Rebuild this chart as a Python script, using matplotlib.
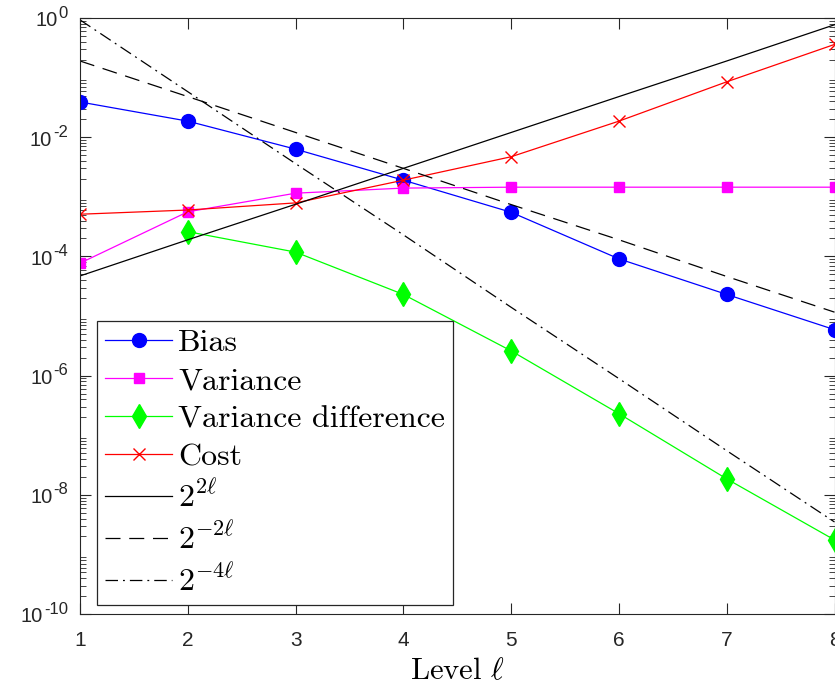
import numpy as np
import matplotlib
matplotlib.use("Agg")
import matplotlib.pyplot as plt
from matplotlib.ticker import LogLocator, FixedLocator, NullFormatter
from matplotlib.font_manager import FontProperties
from matplotlib.transforms import blended_transform_factory

plt.rcParams['mathtext.fontset'] = 'cm'

# === Data ===
levels = [1, 2, 3, 4, 5, 6, 7, 8]
bias = [3.9e-2, 1.86e-2, 6.3e-3, 1.9e-3, 5.5e-4, 9.1e-5, 2.3e-5, 5.9e-6]
variance = [7.7e-5, 5.6e-4, 1.15e-3, 1.4e-3, 1.45e-3, 1.45e-3, 1.45e-3, 1.45e-3]
var_diff_levels = [2, 3, 4, 5, 6, 7, 8]
var_diff = [2.6e-4, 1.18e-4, 2.3e-5, 2.6e-6, 2.3e-7, 1.85e-8, 1.75e-9]
cost = [5.1e-4, 6.0e-4, 7.9e-4, 1.9e-3, 4.7e-3, 1.86e-2, 8.5e-2, 3.6e-1]
ref_2l = [4.7e-5, 1.9e-4, 7.5e-4, 3.0e-3, 1.2e-2, 4.8e-2, 1.9e-1, 7.7e-1]
ref_m2l = [1.9e-1, 4.8e-2, 1.2e-2, 3.0e-3, 7.4e-4, 1.9e-4, 4.6e-5, 1.16e-5]
ref_m4l = [9.3e-1, 5.8e-2, 3.6e-3, 2.3e-4, 1.4e-5, 8.9e-7, 5.5e-8, 3.5e-9]

ytick_exps = [-10, -8, -6, -4, -2, 0]

labels = ['Bias', 'Variance', 'Variance difference', 'Cost',
          r'$2^{2\ell}$', r'$2^{-2\ell}$', r'$2^{-4\ell}$']

# === Figure ===
fig = plt.figure(figsize=(8.35, 6.89), dpi=100)
ax = fig.add_axes([80 / 835, 1 - 614 / 689, 754.5 / 835, 596 / 689])

lw = 0.9
ax.plot(levels, bias, '-o', color='#0000FF', lw=lw, ms=10, label=labels[0])
ax.plot(levels, variance, '-s', color='#FF00FF', lw=lw, ms=7.5, label=labels[1])
ax.plot(var_diff_levels, var_diff, '-d', color='#00FF00', lw=lw, ms=12, label=labels[2])
ax.plot(levels, cost, '-x', color='#FF0000', lw=lw, ms=8, mew=1.0, label=labels[3])
ax.plot(levels, ref_2l, '-', color='k', lw=lw, label=labels[4])
ax.plot(levels, ref_m2l, color='k', lw=lw, dashes=(12, 7), label=labels[5])
ax.plot(levels, ref_m4l, color='k', lw=lw, dashes=(10, 4, 1.5, 4), label=labels[6])

ax.set_yscale('log')
ax.set_xlim(1, 8)
ax.set_ylim(1e-10, 1e0)

axis_col = '#262626'
ax.xaxis.set_major_locator(FixedLocator(levels))
ax.yaxis.set_major_locator(FixedLocator([10.0 ** e for e in ytick_exps]))
ax.yaxis.set_minor_locator(LogLocator(base=10, subs=np.arange(2, 10), numticks=20))
ax.yaxis.set_minor_formatter(NullFormatter())
ax.yaxis.set_major_formatter(NullFormatter())
ax.tick_params(which='both', direction='in', top=True, right=True,
               color=axis_col, labelcolor=axis_col)
ax.tick_params(axis='x', labelsize=15, labelfontfamily='Liberation Sans', pad=12)
ax.tick_params(which='major', length=8, width=0.8)
ax.tick_params(which='minor', length=4, width=0.6)
for sp in ax.spines.values():
    sp.set_color(axis_col)
    sp.set_linewidth(0.8)

# y tick labels: MATLAB-style 10^n, whole label right aligned
trans = blended_transform_factory(ax.transAxes, ax.transData)
fig.canvas.draw()
renderer = fig.canvas.get_renderer()
for e in ytick_exps:
    sup = ax.annotate(str(e), xy=(0, 10.0 ** e), xycoords=trans,
                      xytext=(-12, 5), textcoords='offset pixels',
                      ha='right', va='center', fontsize=12,
                      family='Liberation Sans', color=axis_col)
    w = sup.get_window_extent(renderer).width
    ax.annotate('10', xy=(0, 10.0 ** e), xycoords=trans,
                xytext=(-13 - w, -3), textcoords='offset pixels',
                ha='right', va='center', fontsize=14.5,
                family='Liberation Sans', color=axis_col)

ax.set_xlabel(r'Level $\ell$', fontproperties=FontProperties(family='cmr10', size=22),
              labelpad=6, color='k')

leg = ax.legend(loc='lower left', bbox_to_anchor=(0.0225, 0.0151),
                prop=FontProperties(family='cmr10', size=23),
                fancybox=False, framealpha=1, edgecolor='#262626',
                handlelength=2.1, handletextpad=0.2, labelspacing=0.3,
                borderpad=0.25, borderaxespad=0)
leg.get_frame().set_linewidth(0.9)

fig.savefig('out.png', dpi=100)
